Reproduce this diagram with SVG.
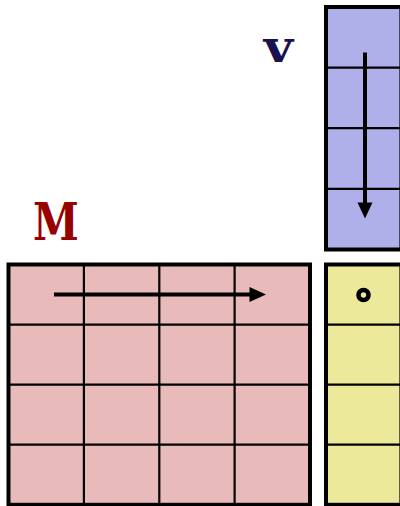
<svg xmlns="http://www.w3.org/2000/svg" width="400" height="506" viewBox="0 0 400 506">
<style>
.outer{stroke:#000;stroke-width:4;}
.grid{stroke:#000;stroke-width:2.2;fill:none;}
.arrow{stroke:#000;stroke-width:4;fill:none;}
.head{fill:#000;}
.lbl{font-family:"DejaVu Serif","Liberation Serif",serif;font-weight:bold;}
</style>
<g id="labelM"><text class="lbl" x="56" y="240" font-size="46" fill="#990000" text-anchor="middle" transform="translate(56,240) scale(0.9,1.15) translate(-56,-240)">M</text></g>
<g id="labelV"><text class="lbl" x="278.5" y="62" font-size="45" fill="#1a124f" text-anchor="middle" transform="translate(278.5,62) scale(1.12,1) translate(-278.5,-62)">v</text></g>
<g id="matrixM">
<rect class="outer" x="8.5" y="264.5" width="301.5" height="240.3" fill="#e8baba"/>
<path class="grid" d="M83.9,264.5V504.8M159.3,264.5V504.8M234.6,264.5V504.8M8.5,324.6H310M8.5,384.6H310M8.5,444.7H310"/>
</g>
<g id="vectorV">
<rect class="outer" x="326" y="7" width="75.4" height="242.5" fill="#afafea"/>
<path class="grid" d="M326,67.6H402M326,128.2H402M326,188.9H402"/>
</g>
<g id="vectorR">
<rect class="outer" x="326" y="264.5" width="75.4" height="240.3" fill="#ede99b"/>
<path class="grid" d="M326,324.6H402M326,384.6H402M326,444.7H402"/>
<circle cx="363.5" cy="295" r="5" fill="#ede99b" stroke="#000" stroke-width="4.6"/>
</g>
<g id="connectors">
<path class="arrow" d="M54,294.5H251"/>
<polygon class="head" points="249.5,287 266,294.5 249.5,302"/>
<path class="arrow" d="M365,52.5V204"/>
<polygon class="head" points="357.5,202.5 365,218.5 372.5,202.5"/>
</g>
</svg>
